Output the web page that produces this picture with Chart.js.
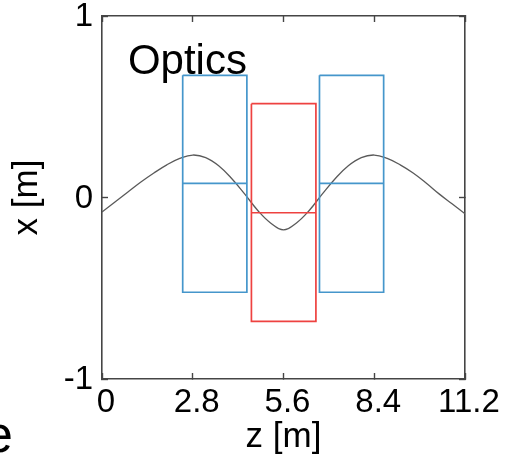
<!DOCTYPE html>
<html>
<head>
<meta charset="utf-8">
<script src="https://cdn.jsdelivr.net/npm/chart.js@4/dist/chart.umd.min.js"></script>
<style>
  html, body { margin: 0; padding: 0; background: #fff; }
  #wrap { position: relative; width: 508px; height: 456px; }
</style>
</head>
<body>
<div id="wrap"><canvas id="c" width="508" height="456"></canvas></div>
<script>
// Beam orbit x(z) through the lattice, sampled every 0.4 m
const zPos = [0, 0.4, 0.8, 1.2, 1.6, 2.0, 2.4, 2.8, 3.2, 3.6, 4.0, 4.4, 4.8, 5.2, 5.6,
              6.0, 6.4, 6.8, 7.2, 7.6, 8.0, 8.4, 8.8, 9.2, 9.6, 10.0, 10.4, 10.8, 11.2];
const xOrbit = [-0.08, -0.025, 0.03, 0.085, 0.135, 0.18, 0.215, 0.234, 0.22, 0.175, 0.105, 0.02, -0.07, -0.14, -0.178,
                -0.14, -0.07, 0.02, 0.105, 0.175, 0.22, 0.234, 0.215, 0.18, 0.135, 0.08, 0.02, -0.035, -0.09];

// Magnet elements: focusing, defocusing, focusing
const magnetType = ['F', 'D', 'F'];
const magnetStart = [2.49, 4.61, 6.71];
const magnetEnd = [4.47, 6.60, 8.69];
const magnetTop = [0.673, 0.517, 0.673];
const magnetMid = [0.078, -0.084, 0.078];
const magnetBottom = [-0.522, -0.682, -0.522];

// Axis ticks
const zTicks = [0, 2.8, 5.6, 8.4, 11.2];
const zTickLabels = ['0', '2.8', '5.6', '8.4', '11.2'];
const xTicks = [-1, 0, 1];
const xTickLabels = ['-1', '0', '1'];

const magnetColor = { F: '#4596cb', D: '#ee4240' };
const frameColor = '#454545';
const FONT = 'Liberation Sans, Arial, Helvetica, sans-serif';

const datasets = [];
magnetType.forEach((t, i) => {
  const s = magnetStart[i], e = magnetEnd[i];
  datasets.push({
    data: [
      { x: s, y: magnetTop[i] }, { x: e, y: magnetTop[i] },
      { x: e, y: magnetBottom[i] }, { x: s, y: magnetBottom[i] },
      { x: s, y: magnetTop[i] }
    ],
    borderColor: magnetColor[t], borderWidth: 1.7, showLine: true,
    pointRadius: 0, tension: 0, fill: false, borderJoinStyle: 'miter'
  });
  datasets.push({
    data: [{ x: s, y: magnetMid[i] }, { x: e, y: magnetMid[i] }],
    borderColor: magnetColor[t], borderWidth: 1.7, showLine: true,
    pointRadius: 0, tension: 0, fill: false
  });
});
datasets.push({
  data: zPos.map((z, i) => ({ x: z, y: xOrbit[i] })),
  borderColor: '#5a5a5a', borderWidth: 1.3, showLine: true,
  pointRadius: 0, tension: 0.4, fill: false
});

const fixedTicks = (values) => (scale) => { scale.ticks = values.map(v => ({ value: v })); };

function frameAxis(position, size, values, labels, tickPad, tickOffset, extra) {
  const horizontal = position === 'top' || position === 'bottom';
  return Object.assign({
    type: 'linear',
    position: position,
    min: horizontal ? 0 : -1,
    max: horizontal ? 11.2 : 1,
    afterBuildTicks: fixedTicks(values),
    afterFit: (scale) => {
      if (horizontal) scale.height = size; else scale.width = size;
      scale.paddingTop = 0; scale.paddingBottom = 0;
      scale.paddingLeft = 0; scale.paddingRight = 0;
    },
    border: { display: true, color: frameColor, width: 1.6 },
    grid: { drawOnChartArea: false, drawTicks: true, tickLength: -6, tickColor: frameColor, tickWidth: 1.4 },
    ticks: {
      display: !!labels,
      autoSkip: false,
      maxRotation: 0,
      padding: tickPad,
      labelOffset: tickOffset,
      color: '#000',
      font: { family: FONT, size: 33 },
      callback: (v, i) => labels ? labels[i] : ''
    }
  }, extra || {});
}

const annotate = {
  id: 'annotate',
  afterDraw(chart) {
    const { ctx, scales } = chart;
    ctx.save();
    ctx.fillStyle = '#000';
    ctx.textAlign = 'left';
    ctx.textBaseline = 'alphabetic';
    ctx.font = '42px ' + FONT;
    ctx.fillText('Optics', scales.x.getPixelForValue(0.8), scales.y.getPixelForValue(0.69) + 2);
    ctx.font = '52px ' + FONT;
    ctx.fillText('e', -16, 452);
    ctx.restore();
  }
};

new Chart(document.getElementById('c'), {
  type: 'scatter',
  data: { datasets },
  options: {
    responsive: false,
    animation: false,
    devicePixelRatio: 1,
    layout: { padding: { left: 0, top: 16, right: 43, bottom: 0 } },
    plugins: { legend: { display: false }, tooltip: { enabled: false } },
    scales: {
      x: frameAxis('bottom', 77, zTicks, zTickLabels, 10, 4, {
        title: { display: true, text: 'z [m]', color: '#000',
                 font: { family: FONT, size: 35, lineHeight: 1 }, padding: { top: 0, bottom: 1.5 } }
      }),
      xTop: frameAxis('top', 0, zTicks, null, 0, 0),
      y: frameAxis('left', 102, xTicks, xTickLabels, 15, 1, {
        title: { display: true, text: 'x [m]', color: '#000',
                 font: { family: FONT, size: 35, lineHeight: 1 }, padding: { top: 10, bottom: 0 } }
      }),
      yRight: frameAxis('right', 0, xTicks, null, 0, 0)
    }
  },
  plugins: [annotate]
});
</script>
</body>
</html>
